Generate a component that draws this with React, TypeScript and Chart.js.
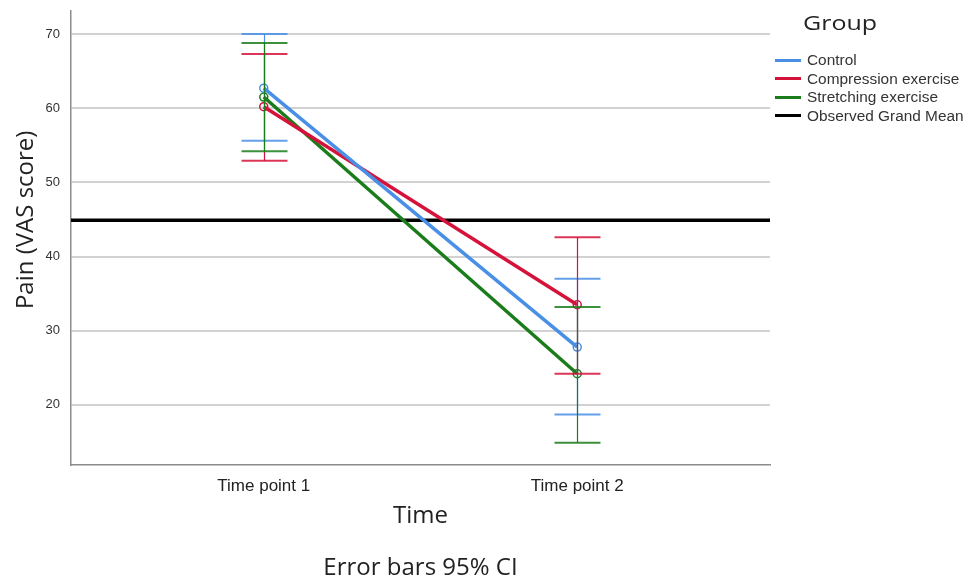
import React, { useEffect, useRef } from "react";
import { Chart, registerables } from "chart.js";

Chart.register(...registerables);

// ---------- DATA ----------
const timePoints = ["Time point 1", "Time point 2"];
const timeX = [1, 2];
const groupNames = ["Control", "Compression exercise", "Stretching exercise"];
const groupColors = ["#4a8fe6", "#d5133a", "#1b7c1b"];

const controlMean = [62.7, 27.8];
const controlLower = [55.6, 18.7];
const controlUpper = [70.0, 37.0];

const compressionMean = [60.2, 33.5];
const compressionLower = [52.9, 24.2];
const compressionUpper = [67.3, 42.6];

const stretchingMean = [61.5, 24.2];
const stretchingLower = [54.2, 14.9];
const stretchingUpper = [68.8, 33.2];

const grandMean = 44.9;
const grandMeanLabel = "Observed Grand Mean";
const yTicks = [20, 30, 40, 50, 60, 70];
const yMin = 11.9;
const yMax = 73.1;
const xMin = 0.385;
const xMax = 2.615;

const means = [controlMean, compressionMean, stretchingMean];
const lowers = [controlLower, compressionLower, stretchingLower];
const uppers = [controlUpper, compressionUpper, stretchingUpper];

// ---------- PLUGINS ----------
const errorBarPlugin = {
  id: "errorBars",
  afterDatasetsDraw(chart: any) {
    const { ctx, scales } = chart;
    const xs = scales.x;
    const ys = scales.y;
    const capHalf = 23;
    ctx.save();
    for (let g = 0; g < 3; g++) {
      const color = groupColors[g];
      for (let i = 0; i < timeX.length; i++) {
        const px = Math.round(xs.getPixelForValue(timeX[i])) + 0.5;
        const yl = ys.getPixelForValue(lowers[g][i]);
        const yu = ys.getPixelForValue(uppers[g][i]);
        ctx.strokeStyle = color;
        ctx.lineWidth = 1.2;
        ctx.beginPath();
        ctx.moveTo(px, yu);
        ctx.lineTo(px, yl);
        ctx.stroke();
        ctx.globalAlpha = 0.85;
        ctx.lineWidth = 2;
        ctx.beginPath();
        ctx.moveTo(px - capHalf, yu);
        ctx.lineTo(px + capHalf, yu);
        ctx.moveTo(px - capHalf, yl);
        ctx.lineTo(px + capHalf, yl);
        ctx.stroke();
        ctx.globalAlpha = 1;
      }
    }
    ctx.restore();
  },
};

const yTitlePlugin = {
  id: "yTitle",
  afterDraw(chart: any) {
    const { ctx, chartArea } = chart;
    const cy = chartArea.top + (chartArea.bottom - chartArea.top) * 0.46;
    ctx.save();
    ctx.translate(26, cy);
    ctx.rotate(-Math.PI / 2);
    ctx.font = '24px "Open Sans"';
    ctx.fillStyle = "#222";
    ctx.textAlign = "center";
    ctx.textBaseline = "middle";
    ctx.fillText("Pain (VAS score)", 0, 0);
    ctx.restore();
  },
};

export default function App() {
  const canvasRef = useRef<HTMLCanvasElement | null>(null);

  useEffect(() => {
    const canvas = canvasRef.current;
    if (!canvas) return;

    const datasets: any[] = groupNames.map((name, g) => ({
      label: name,
      data: timeX.map((x, i) => ({ x, y: means[g][i] })),
      borderColor: groupColors[g],
      backgroundColor: groupColors[g],
      borderWidth: 3.5,
      pointRadius: 4,
      pointBorderWidth: 1.5,
      pointBackgroundColor: "rgba(0,0,0,0)",
      pointBorderColor: groupColors[g],
      pointStyle: "circle",
      tension: 0,
    }));
    datasets.push({
      label: grandMeanLabel,
      data: [
        { x: xMin, y: grandMean },
        { x: xMax, y: grandMean },
      ],
      borderColor: "#000",
      backgroundColor: "#000",
      borderWidth: 3.5,
      pointRadius: 0,
      order: 10,
    });

    const chart = new Chart(canvas, {
      type: "line",
      data: { datasets },
      plugins: [errorBarPlugin, yTitlePlugin],
      options: {
        animation: false,
        responsive: false,
        layout: { padding: { left: 0, top: 11, right: 196, bottom: 0 } },
        plugins: {
          legend: { display: false },
          tooltip: { enabled: false },
          title: {
            display: true,
            position: "bottom",
            fullSize: false,
            text: "Error bars 95% CI",
            color: "#222",
            font: { family: '"Open Sans"', size: 24, weight: "normal", lineHeight: 1.2 },
            padding: { top: 0, bottom: 2 },
          },
        },
        scales: {
          x: {
            type: "linear",
            min: xMin,
            max: xMax,
            afterFit: (s: any) => {
              s.height = 89.2;
              s.paddingLeft = 0;
              s.paddingRight = 0;
            },
            afterBuildTicks: (s: any) => {
              s.ticks = timeX.map((v) => ({ value: v }));
            },
            ticks: {
              autoSkip: false,
              maxRotation: 0,
              padding: 11,
              color: "#222",
              font: { family: '"Liberation Sans", Arial', size: 17 },
              callback: (v: any) => timePoints[timeX.indexOf(Number(v))] ?? "",
            },
            grid: { display: false, drawTicks: false },
            border: { display: true, color: "#8c8c8c", width: 1.5 },
            title: {
              display: true,
              text: "Time",
              color: "#222",
              font: { family: '"Open Sans"', size: 24, weight: "normal", lineHeight: 1.2 },
              padding: { top: 0, bottom: 24 },
            },
          },
          y: {
            type: "linear",
            min: yMin,
            max: yMax,
            afterFit: (s: any) => {
              s.width = 71;
              s.paddingTop = 0;
              s.paddingBottom = 0;
            },
            afterBuildTicks: (s: any) => {
              s.ticks = yTicks.map((v) => ({ value: v }));
            },
            ticks: {
              padding: 11,
              color: "#333",
              font: { family: '"Liberation Sans", Arial', size: 13 },
            },
            grid: { color: "#d2d2d2", lineWidth: 2, drawTicks: false },
            border: { display: true, color: "#8c8c8c", width: 1.5 },
          },
        },
      },
    });
    return () => chart.destroy();
  }, []);

  const legendItems = [
    { name: groupNames[0], color: groupColors[0] },
    { name: groupNames[1], color: groupColors[1] },
    { name: groupNames[2], color: groupColors[2] },
    { name: grandMeanLabel, color: "#000" },
  ];
  const rowY = [60, 78.5, 97, 115.5];

  return (
    <div
      style={{
        position: "fixed",
        left: 0,
        top: 0,
        width: 966,
        height: 585,
        background: "#fff",
        overflow: "hidden",
      }}
    >
      <canvas ref={canvasRef} width={966} height={585} style={{ display: "block" }} />
      <div
        style={{
          position: "absolute",
          left: 803,
          top: 9,
          font: '20px "Open Sans"',
          lineHeight: "27px",
          color: "#222",
          transform: "scaleX(1.25)",
          transformOrigin: "left center",
          whiteSpace: "nowrap",
        }}
      >
        Group
      </div>
      {legendItems.map((it, i) => (
        <React.Fragment key={it.name}>
          <div
            style={{
              position: "absolute",
              left: 775,
              top: rowY[i] - 1.5,
              width: 26,
              height: 3,
              background: it.color,
            }}
          />
          <div
            style={{
              position: "absolute",
              left: 807,
              top: rowY[i] - 8,
              height: 16,
              font: '14px "Liberation Sans", Arial',
              lineHeight: "16px",
              color: "#333",
              transform: "scaleX(1.1)",
              transformOrigin: "left center",
              whiteSpace: "nowrap",
            }}
          >
            {it.name}
          </div>
        </React.Fragment>
      ))}
    </div>
  );
}
